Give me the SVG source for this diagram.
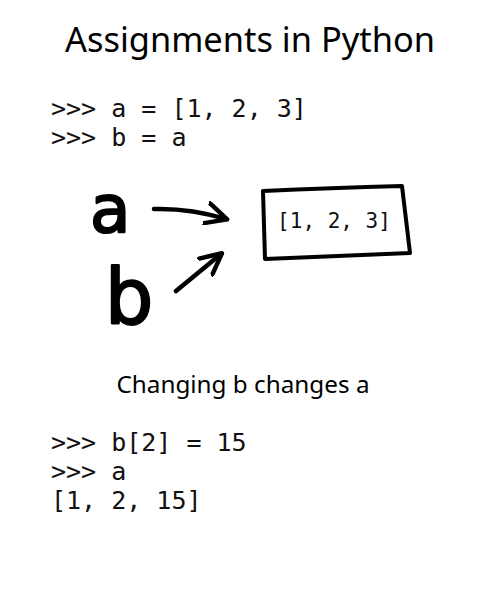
<svg xmlns="http://www.w3.org/2000/svg" width="500" height="600" viewBox="0 0 500 600">
<style>
.mono{font-family:"DejaVu Sans Mono","Liberation Mono",monospace;fill:#111}
.hand{font-family:"Noto Sans","DejaVu Sans",sans-serif;font-weight:400;fill:#000}
.big{font-family:"DejaVu Sans",sans-serif;fill:#000;stroke:#000;stroke-width:2.2;stroke-linejoin:round}
.ink{fill:none;stroke:#000;stroke-linecap:round;stroke-linejoin:round}
</style>
<defs>
<marker id="ah" viewBox="0 0 10 10" refX="8.5" refY="5" markerWidth="5.5" markerHeight="5.5" orient="auto" markerUnits="strokeWidth">
<path d="M0.5,0.8 L9,5 L0.5,9.2" fill="none" stroke="#000" stroke-width="1.8" stroke-linecap="round" stroke-linejoin="round"/>
</marker>
</defs>
<rect width="500" height="600" fill="#fff"/>
<text class="hand" x="250" y="52" font-size="34" text-anchor="middle" textLength="370" lengthAdjust="spacingAndGlyphs">Assignments in Python</text>
<text class="mono" x="51" y="117" font-size="25" xml:space="preserve">&gt;&gt;&gt; a = [1, 2, 3]</text>
<text class="mono" x="51" y="146" font-size="25" xml:space="preserve">&gt;&gt;&gt; b = a</text>
<g id="var-a"><text class="big" x="90" y="232" font-size="66">a</text></g>
<g id="var-b"><text class="big" x="105" y="323" font-size="76">b</text></g>
<g id="list">
<path class="ink" stroke-width="4" d="M263,191 Q330,188 402,186 L410,253 Q340,256 265,259 Z"/>
<text class="mono" x="334" y="228" font-size="21" text-anchor="middle" xml:space="preserve">[1, 2, 3]</text>
</g>
<g id="connectors">
<path class="ink" stroke-width="4.5" d="M154,209 Q190,208 226,219" marker-end="url(#ah)"/>
<path class="ink" stroke-width="4.5" d="M176,291 L221,254" marker-end="url(#ah)"/>
</g>
<text class="hand" x="243" y="393" font-size="24" text-anchor="middle" textLength="253" lengthAdjust="spacingAndGlyphs">Changing b changes a</text>
<text class="mono" x="51" y="451" font-size="25" xml:space="preserve">&gt;&gt;&gt; b[2] = 15</text>
<text class="mono" x="51" y="480" font-size="25" xml:space="preserve">&gt;&gt;&gt; a</text>
<text class="mono" x="51" y="509" font-size="25" xml:space="preserve">[1, 2, 15]</text>
</svg>
